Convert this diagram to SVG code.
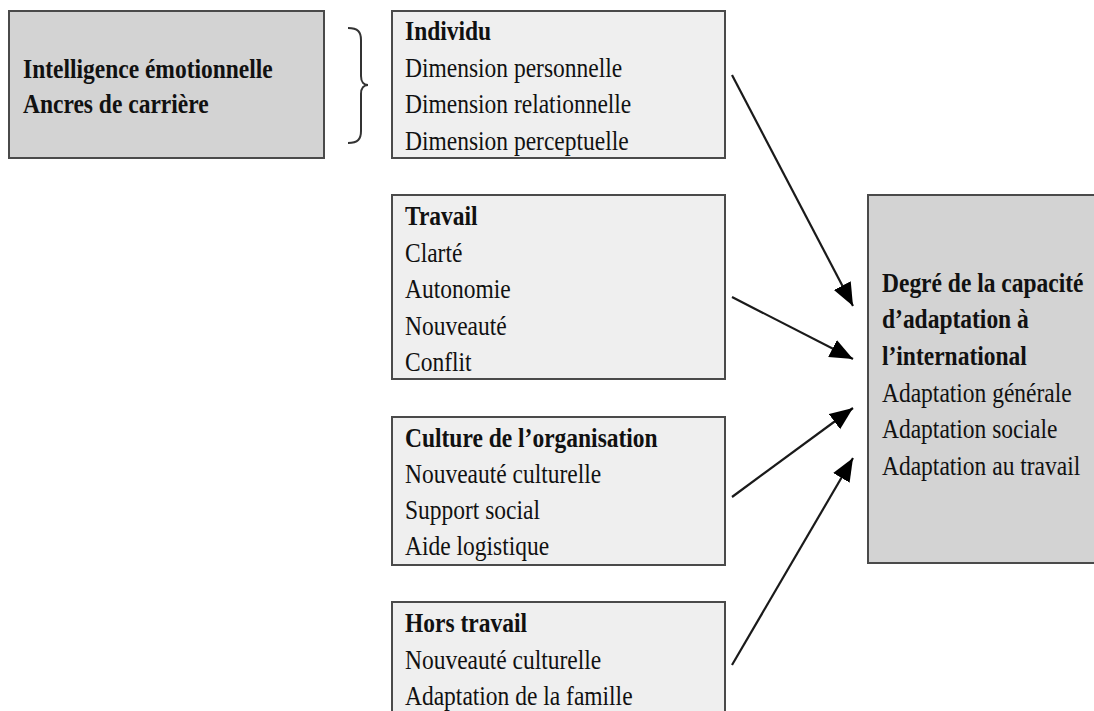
<svg xmlns="http://www.w3.org/2000/svg" width="1094" height="711" viewBox="0 0 1094 711">
<style>
.dark{fill:#d3d3d3;stroke:#4a4a4a;stroke-width:2}
.light{fill:#efefef;stroke:#4a4a4a;stroke-width:2}
text{font-family:"Liberation Serif","Times New Roman",serif;font-size:27px;fill:#111}
.b{font-weight:bold}
.conn{stroke:#1a1a1a;stroke-width:2.2;fill:none}
</style>
<defs>
<marker id="ah" markerUnits="userSpaceOnUse" markerWidth="24" markerHeight="20" refX="23" refY="9.5" orient="auto">
<path d="M0,0 L23,9.5 L0,19 z" fill="#000"/>
</marker>
</defs>
<rect width="1094" height="711" fill="#fff"/>
<g id="node-left">
<rect class="dark" x="9" y="11" width="315" height="147"/>
<g transform="translate(23 0) scale(0.87 1)">
<text class="b" x="0" y="78">Intelligence émotionnelle</text>
<text class="b" x="0" y="113">Ancres de carrière</text>
</g>
</g>
<g id="brace">
<path d="M348,28 C358,28 361,32 361,40 L361,76 C361,82 364,85 368,85 C364,85 361,88 361,94 L361,131 C361,139 358,143 348,143" fill="none" stroke="#333" stroke-width="2"/>
</g>
<g id="node-individu">
<rect class="light" x="392" y="11" width="333" height="147"/>
<g transform="translate(405 0) scale(0.87 1)">
<text class="b" x="0" y="40">Individu</text>
<text x="0" y="77">Dimension personnelle</text>
<text x="0" y="113">Dimension relationnelle</text>
<text x="0" y="150">Dimension perceptuelle</text>
</g>
</g>
<g id="node-travail">
<rect class="light" x="392" y="195" width="333" height="184"/>
<g transform="translate(405 0) scale(0.87 1)">
<text class="b" x="0" y="225">Travail</text>
<text x="0" y="262">Clarté</text>
<text x="0" y="298">Autonomie</text>
<text x="0" y="335">Nouveauté</text>
<text x="0" y="371">Conflit</text>
</g>
</g>
<g id="node-culture">
<rect class="light" x="392" y="417" width="333" height="148"/>
<g transform="translate(405 0) scale(0.87 1)">
<text class="b" x="0" y="447">Culture de l’organisation</text>
<text x="0" y="483">Nouveauté culturelle</text>
<text x="0" y="519">Support social</text>
<text x="0" y="555">Aide logistique</text>
</g>
</g>
<g id="node-hors">
<rect class="light" x="392" y="602" width="333" height="130"/>
<g transform="translate(405 0) scale(0.87 1)">
<text class="b" x="0" y="632">Hors travail</text>
<text x="0" y="669">Nouveauté culturelle</text>
<text x="0" y="705">Adaptation de la famille</text>
</g>
</g>
<g id="node-right">
<rect class="dark" x="868" y="195" width="240" height="368"/>
<g transform="translate(882 0) scale(0.87 1)">
<text class="b" x="0" y="292">Degré de la capacité</text>
<text class="b" x="0" y="328">d’adaptation à</text>
<text class="b" x="0" y="365">l’international</text>
<text x="0" y="402">Adaptation générale</text>
<text x="0" y="438">Adaptation sociale</text>
<text x="0" y="475">Adaptation au travail</text>
</g>
</g>
<g id="connectors">
<line class="conn" x1="732" y1="75" x2="853" y2="306" marker-end="url(#ah)"/>
<line class="conn" x1="732" y1="297" x2="853" y2="359" marker-end="url(#ah)"/>
<line class="conn" x1="732" y1="497" x2="853" y2="408" marker-end="url(#ah)"/>
<line class="conn" x1="732" y1="665" x2="853" y2="458" marker-end="url(#ah)"/>
</g>
</svg>
